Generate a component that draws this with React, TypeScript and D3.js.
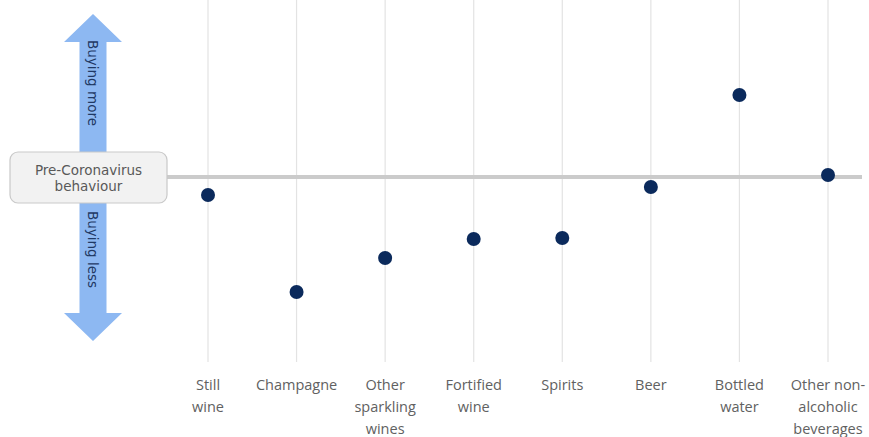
import React from "react";
import * as d3 from "d3";

const categories = [
  "Still wine",
  "Champagne",
  "Other sparkling wines",
  "Fortified wine",
  "Spirits",
  "Beer",
  "Bottled water",
  "Other non-alcoholic beverages",
];
const categoryLines = [
  ["Still", "wine"],
  ["Champagne"],
  ["Other", "sparkling", "wines"],
  ["Fortified", "wine"],
  ["Spirits"],
  ["Beer"],
  ["Bottled", "water"],
  ["Other non-", "alcoholic", "beverages"],
];
// change in buying behaviour relative to pre-Coronavirus (arbitrary units)
const values = [-18, -115, -81, -62, -61, -10, 82, 2];
const baselineLabel = ["Pre-Coronavirus", "behaviour"];
const upLabel = "Buying more";
const downLabel = "Buying less";

const W = 869;
const H = 437;

export default function App() {
  const x = d3.scalePoint<string>().domain(categories).range([208, 828]);
  const y = d3.scaleLinear().domain([-150, 150]).range([327, 27]);
  const y0 = y(0);

  const arrowX = 93;
  const shaftW = 27;
  const headW = 58;
  const topTip = 14;
  const headH = 28;
  const botTip = 341;
  const arrowPath = [
    [arrowX, topTip],
    [arrowX + headW / 2, topTip + headH],
    [arrowX + shaftW / 2, topTip + headH],
    [arrowX + shaftW / 2, botTip - headH],
    [arrowX + headW / 2, botTip - headH],
    [arrowX, botTip],
    [arrowX - headW / 2, botTip - headH],
    [arrowX - shaftW / 2, botTip - headH],
    [arrowX - shaftW / 2, topTip + headH],
    [arrowX - headW / 2, topTip + headH],
  ];
  const arrowD = d3.line()(arrowPath as [number, number][]) + "Z";

  return (
    <svg
      width={W}
      height={H}
      style={{ position: "absolute", left: 0, top: 0, background: "#fff" }}
    >
      {/* vertical gridlines */}
      {categories.map((c) => (
        <line
          key={c}
          x1={x(c)}
          x2={x(c)}
          y1={0}
          y2={362}
          stroke="#e3e3e3"
          strokeWidth={1.2}
        />
      ))}
      {/* baseline */}
      <line x1={165} x2={862} y1={y0} y2={y0} stroke="#cbcbcb" strokeWidth={4} />

      {/* arrow */}
      <path d={arrowD} fill="#8db8f2" />
      <text
        transform={`translate(${arrowX - 5},${40}) rotate(90)`}
        fontFamily="'DejaVu Sans', sans-serif"
        fontSize={13.5}
        fill="#1f3864"
      >
        {upLabel}
      </text>
      <text
        transform={`translate(${arrowX - 5},${211}) rotate(90)`}
        fontFamily="'DejaVu Sans', sans-serif"
        fontSize={13.5}
        fill="#1f3864"
      >
        {downLabel}
      </text>

      {/* baseline box */}
      <rect
        x={10}
        y={152}
        width={157}
        height={51}
        rx={8}
        fill="#f2f2f2"
        stroke="#c9c9c9"
        strokeWidth={1.2}
      />
      {baselineLabel.map((t, i) => (
        <text
          key={t}
          x={88.5}
          y={175 + i * 16}
          textAnchor="middle"
          fontFamily="'DejaVu Sans', sans-serif"
          fontSize={13.5}
          fill="#595959"
        >
          {t}
        </text>
      ))}

      {/* dots */}
      {categories.map((c, i) => (
        <circle key={c} cx={x(c)} cy={y(values[i])} r={7} fill="#0b2a5c" />
      ))}

      {/* category labels */}
      {categories.map((c, i) => (
        <text
          key={c}
          x={x(c)}
          textAnchor="middle"
          fontFamily="'Open Sans', sans-serif"
          fontSize={14.5}
          fill="#616161"
        >
          {categoryLines[i].map((l, j) => (
            <tspan key={j} x={x(c)} y={390 + j * 22}>
              {l}
            </tspan>
          ))}
        </text>
      ))}
    </svg>
  );
}
